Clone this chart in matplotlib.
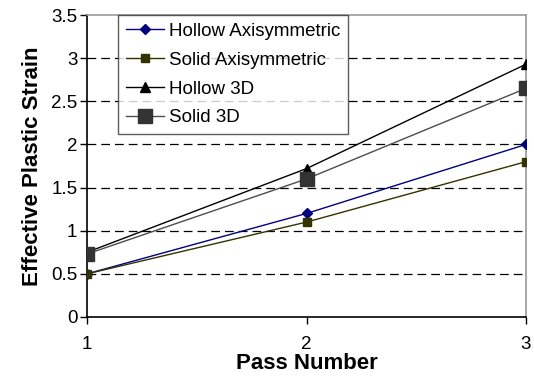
import matplotlib
matplotlib.use("Agg")
import matplotlib.pyplot as plt

plt.rcParams['font.family'] = ['Liberation Sans', 'DejaVu Sans']

passes = [1, 2, 3]
hollow_axi = [0.50, 1.20, 2.00]
solid_axi = [0.50, 1.10, 1.80]
hollow_3d = [0.75, 1.72, 2.93]
solid_3d = [0.73, 1.60, 2.65]
y_ticks = [0, 0.5, 1, 1.5, 2, 2.5, 3, 3.5]

fig = plt.figure(figsize=(5.34, 3.76), dpi=100)
ax = fig.add_axes([0.163, 0.157, 0.822, 0.803])

# dashed horizontal gridlines between the axis limits
for y in y_ticks[1:-1]:
    ax.axhline(y, color='black', lw=0.9, ls=(0, (7, 4)), zorder=1)

ax.plot(passes, hollow_axi, color='#000080', lw=1.0, marker='D', ms=5.5,
        label='Hollow Axisymmetric', zorder=3)
ax.plot(passes, solid_axi, color='#333300', lw=1.0, marker='s', ms=5.5,
        label='Solid Axisymmetric', zorder=3)
ax.plot(passes, hollow_3d, color='black', lw=1.0, marker='^', ms=7.5,
        label='Hollow 3D', zorder=3)
ax.plot(passes, solid_3d, color='#4d4d4d', lw=1.0, marker='s', ms=9.5,
        mfc='#333333', mec='#333333', label='Solid 3D', zorder=3)

ax.set_xlim(1, 3)
ax.set_ylim(0, 3.5)
ax.set_xticks(passes)
ax.set_yticks(y_ticks)
ax.set_yticklabels([f'{v:g}' for v in y_ticks])
ax.tick_params(axis='both', direction='out', length=5, width=1, labelsize=13.5)
ax.tick_params(axis='x', pad=9)
ax.tick_params(axis='y', pad=2)

for side in ['left', 'bottom']:
    ax.spines[side].set_color('black')
    ax.spines[side].set_linewidth(1.2)
for side in ['top', 'right']:
    ax.spines[side].set_color('#999999')
    ax.spines[side].set_linewidth(1.2)

ax.set_xlabel('Pass Number', fontsize=16, fontweight='bold', labelpad=0)
ax.set_ylabel('Effective Plastic Strain', fontsize=16, fontweight='bold', labelpad=6)

leg = ax.legend(loc='upper left', bbox_to_anchor=(0.071, 1.0), fontsize=13.5,
                frameon=True, fancybox=False, edgecolor='#333333',
                borderpad=0.42, labelspacing=0.62, handlelength=2.0,
                handletextpad=0.3, borderaxespad=0)
leg.get_frame().set_linewidth(1.0)

fig.savefig('out.png', dpi=100)
